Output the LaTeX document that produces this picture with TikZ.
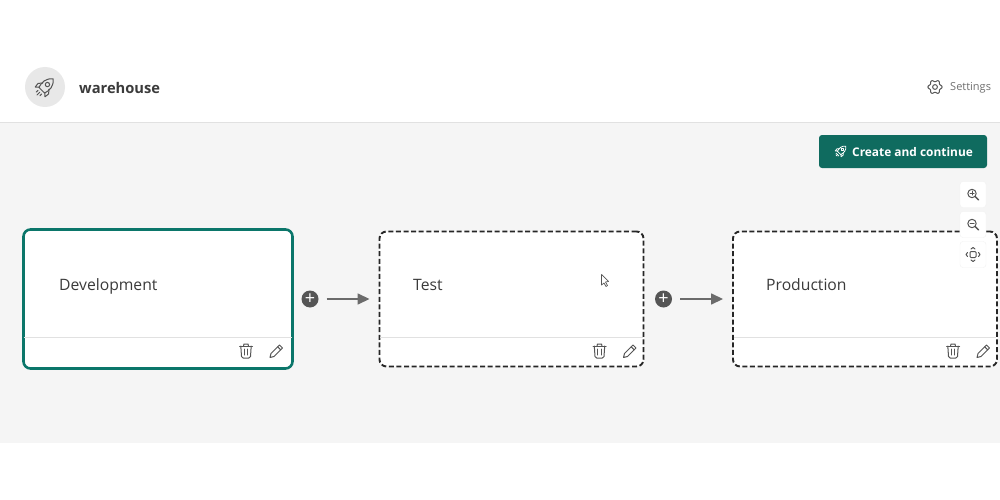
\documentclass[tikz,border=0pt]{standalone}
\usepackage{fontspec}
\setmainfont{Open Sans}
\usetikzlibrary{arrows.meta}

\definecolor{panelgray}{HTML}{F5F5F5}
\definecolor{rulegray}{HTML}{E1E1E1}
\definecolor{avatargray}{HTML}{E8E8E8}
\definecolor{icongray}{HTML}{555555}
\definecolor{textgray}{HTML}{3B3B3B}
\definecolor{settingsgray}{HTML}{707070}
\definecolor{teal}{HTML}{0F6B5F}
\definecolor{devteal}{HTML}{0B766A}
\definecolor{plusgray}{HTML}{555555}
\definecolor{arrowgray}{HTML}{6B6B6B}

\newcommand\SepY{337}
\newcommand\IconY{351}

\tikzset{
  x=1pt, y=-1pt,
  card/.style={draw, fill=white, rounded corners=7pt, inner sep=0pt},
  devcard/.style={card, draw=devteal, line width=2.6pt, minimum width=269pt, minimum height=139pt},
  stagecard/.style={card, draw=black!85, line width=1.9pt, dash pattern=on 5pt off 2.6pt,
    minimum width=264pt, minimum height=135pt},
  cardlabel/.style={anchor=west, inner sep=0pt, text height=11pt, text depth=3pt, text=textgray,
    font=\fontsize{15.7}{18}\selectfont},
  plusbtn/.style={circle, fill=plusgray, text=white, minimum size=17pt, inner sep=0pt,
    font=\fontsize{18}{18}\selectfont},
  flow/.style={draw=arrowgray, line width=1.5pt, -{Triangle[length=12pt,width=11pt]},
    shorten <=8pt, shorten >=9pt},
  zoombtn/.style={draw=black!5, fill=white, rounded corners=3pt, minimum width=26pt,
    minimum height=26pt, inner sep=0pt},
  icon/.style={draw=icongray, line width=1pt, line join=round, line cap=round},
  pics/trashicon/.style={code={
    \draw[icon] (-6.5,-5) -- (6.5,-5);
    \draw[icon] (-2.5,-5) -- (-2,-7) -- (2,-7) -- (2.5,-5);
    \draw[icon, rounded corners=1.5pt] (-5.2,-5) -- (-4.4,7) -- (4.4,7) -- (5.2,-5);
    \draw[icon] (-1.7,-2) -- (-1.7,4) (1.7,-2) -- (1.7,4);
  }},
  pics/pencilicon/.style={code={
    \draw[icon] (-6,6.5) -- (-5,2.5) -- (3.5,-6) -- (6.5,-3) -- (-2,5.5) -- cycle;
    \draw[icon] (1.7,-4.2) -- (4.7,-1.2);
  }},
  pics/rocketicon/.style={code={
    \begin{scope}[rotate=-45]
      \draw[icon] (3.8,-1) -- (6.5,2) -- (6,6) -- (3.2,3.5);
      \draw[icon] (-3.8,-1) -- (-6.5,2) -- (-6,6) -- (-3.2,3.5);
      \draw[icon] (0,-10) .. controls (5,-6) and (5,-1) .. (3.5,4) -- (-3.5,4)
        .. controls (-5,-1) and (-5,-6) .. (0,-10);
      \draw[icon] (0,-3) circle (1.9);
      \draw[icon] (0,6.5) -- (0,10) (-2.2,6.5) -- (-2.2,8.5) (2.2,6.5) -- (2.2,8.5);
    \end{scope}
  }},
  pics/gearicon/.style={code={
    \draw[icon] plot[domain=0:360, samples=61, smooth]
      ({(6.2+.9*cos(6*\x))*cos(\x)}, {(6.2+.9*cos(6*\x))*sin(\x)}) -- cycle;
    \draw[icon] (0,0) circle (2.4);
  }},
  pics/zoomicon/.style={code={
    \draw[icon] (-1,-1) circle (4.2);
    \draw[icon, line width=1.4pt] (2,2) -- (5.5,5.5);
    \draw[icon] (-3,-1) -- (1,-1);
  }},
  pics/fiticon/.style={code={
    \draw[icon, rounded corners=1pt] (-3,-3) rectangle (3,3);
    \draw[icon] (-2,-5.5) -- (0,-7) -- (2,-5.5);
    \draw[icon] (-2,5.5) -- (0,7) -- (2,5.5);
    \draw[icon] (-5.5,-2) -- (-7,0) -- (-5.5,2);
    \draw[icon] (5.5,-2) -- (7,0) -- (5.5,2);
  }},
}

\begin{document}
\begin{tikzpicture}

  \useasboundingbox (0,0) rectangle (1000,500);
  \fill[white] (0,0) rectangle (1000,500);
  \fill[panelgray] (0,122) rectangle (1000,443);
  \draw[rulegray, line width=1pt] (0,122) -- (1000,122);

  %% header
  \node[circle, fill=avatargray, minimum size=40pt, inner sep=0pt] (avatar) at (45,87) {};
  \pic[scale=1.15] at (avatar.center) {rocketicon};
  \node[anchor=west, inner sep=0pt, text=textgray, font=\fontsize{14.7}{18}\selectfont\bfseries] (title) at (79,88) {warehouse};
  \pic at (935,87) {gearicon};
  \node[anchor=west, inner sep=0pt, text=settingsgray, font=\fontsize{11}{14}\selectfont] (settings) at (950,88) {Settings};

  %% button
  \node[fill=teal, rounded corners=3pt, minimum width=168pt, minimum height=33pt, inner sep=0pt] (create) at (903,151.5) {};
  \node[anchor=west, inner sep=0pt, text=white, font=\fontsize{11.9}{15}\selectfont\bfseries] (createlabel) at (852,152) {Create and continue};
  \pic[scale=.68, icon/.append style={draw=white, line width=.8pt}] at (841,151) {rocketicon};

  %% cards
  \node[devcard] (dev) at (158,299) {};
  \node[stagecard] (test) at (511.5,299) {};
  \node[stagecard] (prod) at (865,299) {};

  \draw[rulegray, shorten >=2pt, shorten <=2pt] (dev.west |- 0,\SepY) -- (dev.east |- 0,\SepY); %% dev
  \draw[rulegray, shorten >=1.5pt, shorten <=1.5pt] (test.west |- 0,\SepY) -- (test.east |- 0,\SepY); %% test
  \draw[rulegray, shorten >=1.5pt, shorten <=1.5pt] (prod.west |- 0,\SepY) -- (prod.east |- 0,\SepY); %% prod

  \node[cardlabel] (devlabel) at (59,286) {Development};
  \node[cardlabel] (testlabel) at (413,286) {Test};
  \node[cardlabel] (prodlabel) at (766,286) {Production};

  \pic at (246,\IconY) {trashicon};
  \pic at (276,\IconY) {pencilicon};
  \pic at (599.5,\IconY) {trashicon};
  \pic at (629.5,\IconY) {pencilicon};
  \pic at (953,\IconY) {trashicon};
  \pic at (983,\IconY) {pencilicon};

  %% connectors
  \node[plusbtn] (plusa) at (310,299) {+};
  \node[plusbtn] (plusb) at (663.5,299) {+};
  \draw[flow] (plusa) -- (test); %% dev test
  \draw[flow] (plusb) -- (prod); %% test prod

  %% cursor
  \draw[draw=icongray, fill=white, line width=.7pt, line join=round] (601.5,274.5) -- (601.5,285) -- (604,283) -- (606,286.5) -- (607.5,285.5) -- (605.5,282) -- (608.5,281.5) -- cycle;

  %% zoom controls
  \node[zoombtn] (zoomin) at (973,194.5) {};
  \node[zoombtn] (zoomout) at (973,224.5) {};
  \node[zoombtn] (fit) at (973,254.5) {};
  \pic at (zoomin.center) {zoomicon};
  \draw[icon] (972,191) -- (972,195);
  \pic at (zoomout.center) {zoomicon};
  \pic at (fit.center) {fiticon};

\end{tikzpicture}
\end{document}
